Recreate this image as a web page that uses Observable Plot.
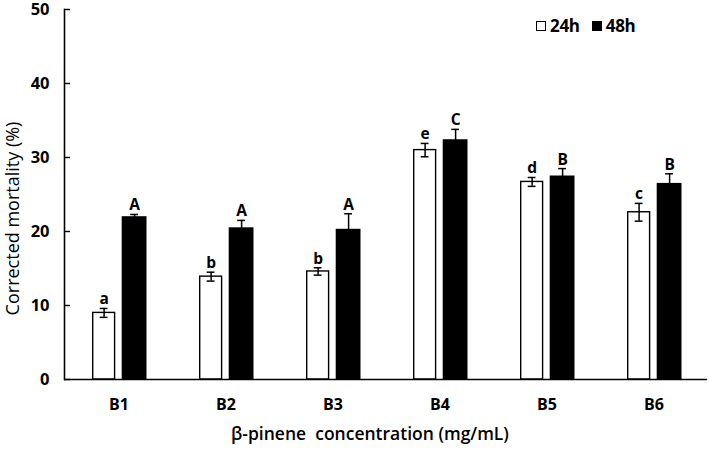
<!DOCTYPE html>
<html>
<head>
<meta charset="utf-8">
<script src="https://cdn.jsdelivr.net/npm/d3@7"></script>
<script src="https://cdn.jsdelivr.net/npm/@observablehq/plot@0.6"></script>
<style>
  html, body { margin: 0; padding: 0; background: #fff; }
  #wrap { position: relative; width: 709px; height: 449px; font-family: "Open Sans", sans-serif; }
  #legend { position: absolute; left: 536px; top: 14px; display: flex; align-items: center; font-weight: 700; font-size: 17px; color: #000; letter-spacing: -0.3px; }
  .sw { display: inline-block; width: 8px; height: 8px; border: 1.4px solid #000; margin-right: 4px; box-sizing: content-box; }
</style>
</head>
<body>
<div id="wrap"></div>
<script>
const categories = ["B1", "B2", "B3", "B4", "B5", "B6"];
const mean24 = [9.0, 13.9, 14.6, 31.0, 26.7, 22.6];
const err24 = [0.6, 0.6, 0.5, 0.9, 0.6, 1.2];
const mean48 = [22.0, 20.5, 20.3, 32.4, 27.5, 26.5];
const err48 = [0.3, 1.0, 2.1, 1.4, 1.0, 1.3];
const letters24 = ["a", "b", "b", "e", "d", "c"];
const letters48 = ["A", "A", "A", "C", "B", "B"];
const yTicks = [0, 10, 20, 30, 40, 50];
const seriesNames = ["24h", "48h"];

const d24 = categories.map((c, i) => ({cat: c, v: mean24[i], e: err24[i], lab: letters24[i]}));
const d48 = categories.map((c, i) => ({cat: c, v: mean48[i], e: err48[i], lab: letters48[i]}));

const font = "Open Sans, sans-serif";
const off24 = -14.9, off48 = 15.6;

const chart = Plot.plot({
  width: 709,
  height: 449,
  marginLeft: 64,
  marginRight: 2,
  marginTop: 9,
  marginBottom: 70,
  style: {fontFamily: font, background: "#fff", color: "#000", overflow: "visible"},
  x: {domain: categories, padding: 0, label: null},
  y: {domain: [0, 50], label: null},
  marks: [
    Plot.barY(d24, {x: "cat", y: "v", fill: "#fff", stroke: "#000", strokeWidth: 1.4, insetLeft: 27.7, insetRight: 57.4}),
    Plot.barY(d48, {x: "cat", y: "v", fill: "#000", insetLeft: 56.7, insetRight: 25.5}),
    Plot.ruleX(d24, {x: "cat", y1: d => d.v - d.e, y2: d => d.v + d.e, dx: off24, stroke: "#000", strokeWidth: 1.5}),
    Plot.ruleX(d48, {x: "cat", y1: d => d.v - d.e, y2: d => d.v + d.e, dx: off48, stroke: "#000", strokeWidth: 1.5}),
    Plot.tickY(d24, {x: "cat", y: d => d.v + d.e, dx: off24, insetLeft: 49.6, insetRight: 49.6, stroke: "#000", strokeWidth: 1.5}),
    Plot.tickY(d24, {x: "cat", y: d => d.v - d.e, dx: off24, insetLeft: 49.6, insetRight: 49.6, stroke: "#000", strokeWidth: 1.5}),
    Plot.tickY(d48, {x: "cat", y: d => d.v + d.e, dx: off48, insetLeft: 49.6, insetRight: 49.6, stroke: "#000", strokeWidth: 1.5}),
    Plot.text(d24, {x: "cat", y: d => d.v + d.e, text: "lab", dx: off24, dy: -4, lineAnchor: "bottom", fontSize: 15.5, fontWeight: 700, fill: "#000"}),
    Plot.text(d48, {x: "cat", y: d => d.v + d.e, text: "lab", dx: off48, dy: -4, lineAnchor: "bottom", fontSize: 15.5, fontWeight: 700, fill: "#000"}),
    Plot.ruleY([0], {stroke: "#000", strokeWidth: 1.6}),
    Plot.frame({anchor: "left", stroke: "#000", strokeWidth: 1.6}),
    Plot.axisY({ticks: yTicks, tickSize: -6, tickPadding: 21, fontSize: 16.5, fontWeight: 700, label: null, stroke: "#000", strokeWidth: 1.4, fill: "#000"}),
    Plot.axisX({tickSize: 0, tickPadding: 19, fontSize: 16, fontWeight: 700, label: null, fill: "#000"}),
    Plot.text(["\u03b2-pinene\u00a0 concentration (mg/mL)"], {frameAnchor: "bottom", dx: -16, dy: 60, fontSize: 17.5, fontWeight: 600, fill: "#000"}),
    Plot.text(["Corrected mortality (%)"], {frameAnchor: "left", textAnchor: "middle", rotate: -90, dx: -51, dy: 24, fontSize: 18, fontWeight: 500, fill: "#000"})
  ]
});

const wrap = document.getElementById("wrap");
wrap.appendChild(chart);
const legend = document.createElement("div");
legend.id = "legend";
legend.innerHTML = `<span class="sw" style="background:#fff"></span><span>${seriesNames[0]}</span><span style="width:12px;display:inline-block"></span><span class="sw" style="background:#000"></span><span>${seriesNames[1]}</span>`;
wrap.appendChild(legend);
</script>
</body>
</html>
